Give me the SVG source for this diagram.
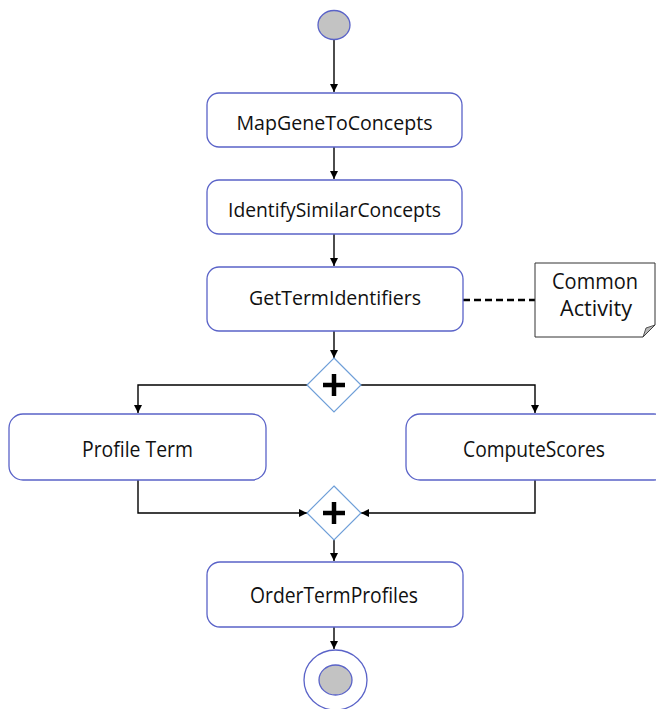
<svg xmlns="http://www.w3.org/2000/svg" width="656" height="709" viewBox="0 0 656 709">
  <style>
    .act { fill: #ffffff; stroke: #5a63c8; stroke-width: 1.3; }
    .lbl { font-family: "Open Sans", "Liberation Sans", sans-serif; font-size: 20.5px; fill: #111111; text-anchor: middle; }
    .big { font-size: 21.5px; }
    .flow { fill: none; stroke: #000000; stroke-width: 1.4; marker-end: url(#arrow); }
    .gate { fill: #ffffff; stroke: #6f9fd8; stroke-width: 1.2; }
    .plus { stroke: #000000; stroke-width: 4.5; }
  </style>
  <defs>
    <marker id="arrow" viewBox="0 0 10 10" refX="10" refY="5" markerWidth="8" markerHeight="8" markerUnits="userSpaceOnUse" orient="auto">
      <path d="M0,0 L10,5 L0,10 Z" fill="#000000"/>
    </marker>
  </defs>
  <rect width="656" height="709" fill="#ffffff"/>

  <!-- connectors -->
  <g id="connectors">
    <line class="flow" x1="334" y1="40" x2="334" y2="92"/>
    <line class="flow" x1="334" y1="147" x2="334" y2="179"/>
    <line class="flow" x1="334" y1="234" x2="334" y2="266"/>
    <line class="flow" x1="334" y1="331" x2="334" y2="358"/>
    <polyline class="flow" points="308,385 138,385 138,413"/>
    <polyline class="flow" points="360,385 535,385 535,413"/>
    <polyline class="flow" points="138,480 138,513 307,513"/>
    <polyline class="flow" points="535,480 535,513 361,513"/>
    <line class="flow" x1="334" y1="539" x2="334" y2="561"/>
    <line class="flow" x1="334" y1="627" x2="334" y2="649"/>
    <line x1="463" y1="300" x2="535" y2="300" stroke="#000000" stroke-width="2.5" stroke-dasharray="7,4"/>
  </g>

  <g id="start">
    <ellipse cx="334" cy="25" rx="16" ry="14.5" fill="#c3c3c3" stroke="#5a63c8" stroke-width="1.3"/>
  </g>

  <g id="mapGeneToConcepts">
    <rect class="act" x="207" y="93" width="255" height="54" rx="12"/>
    <text class="lbl" x="334.5" y="130" textLength="196" lengthAdjust="spacingAndGlyphs">MapGeneToConcepts</text>
  </g>

  <g id="identifySimilarConcepts">
    <rect class="act" x="207" y="180" width="255" height="54" rx="12"/>
    <text class="lbl" x="334.5" y="217" textLength="213" lengthAdjust="spacingAndGlyphs">IdentifySimilarConcepts</text>
  </g>

  <g id="getTermIdentifiers">
    <rect class="act" x="207" y="267" width="256" height="64" rx="12"/>
    <text class="lbl" x="335" y="305" textLength="172" lengthAdjust="spacingAndGlyphs">GetTermIdentifiers</text>
  </g>

  <g id="note">
    <path d="M535,263 H655 V325 L643,337 H535 Z" fill="#ffffff" stroke="#333333" stroke-width="1"/>
    <path d="M643,337 L646,328 L655,325 Z" fill="#b8b8b8" stroke="#333333" stroke-width="0.8"/>
    <text class="lbl big" x="595" y="289" textLength="86" lengthAdjust="spacingAndGlyphs">Common</text>
    <text class="lbl big" x="596" y="316" textLength="72" lengthAdjust="spacingAndGlyphs">Activity</text>
  </g>

  <g id="fork">
    <path class="gate" d="M334,358 L361,385 L334,412 L307,385 Z"/>
    <line class="plus" x1="323" y1="385" x2="345" y2="385"/>
    <line class="plus" x1="334" y1="374" x2="334" y2="396"/>
  </g>

  <g id="profileTerm">
    <rect class="act" x="9" y="414" width="257" height="66" rx="14"/>
    <text class="lbl big" x="137.5" y="457" textLength="111" lengthAdjust="spacingAndGlyphs">Profile Term</text>
  </g>

  <g id="computeScores">
    <rect class="act" x="406" y="414" width="262" height="66" rx="14"/>
    <text class="lbl big" x="534" y="457" textLength="142" lengthAdjust="spacingAndGlyphs">ComputeScores</text>
  </g>

  <g id="join">
    <path class="gate" d="M334,486 L361,513 L334,540 L307,513 Z"/>
    <line class="plus" x1="323" y1="513" x2="345" y2="513"/>
    <line class="plus" x1="334" y1="502" x2="334" y2="524"/>
  </g>

  <g id="orderTermProfiles">
    <rect class="act" x="207" y="562" width="256" height="65" rx="13"/>
    <text class="lbl big" x="334" y="603" textLength="168" lengthAdjust="spacingAndGlyphs">OrderTermProfiles</text>
  </g>

  <g id="end">
    <ellipse cx="335.5" cy="680" rx="31.5" ry="30" fill="#ffffff" stroke="#5a63c8" stroke-width="1.3"/>
    <ellipse cx="335.5" cy="680" rx="16.5" ry="15" fill="#c3c3c3" stroke="#5a63c8" stroke-width="1.3"/>
  </g>
</svg>
